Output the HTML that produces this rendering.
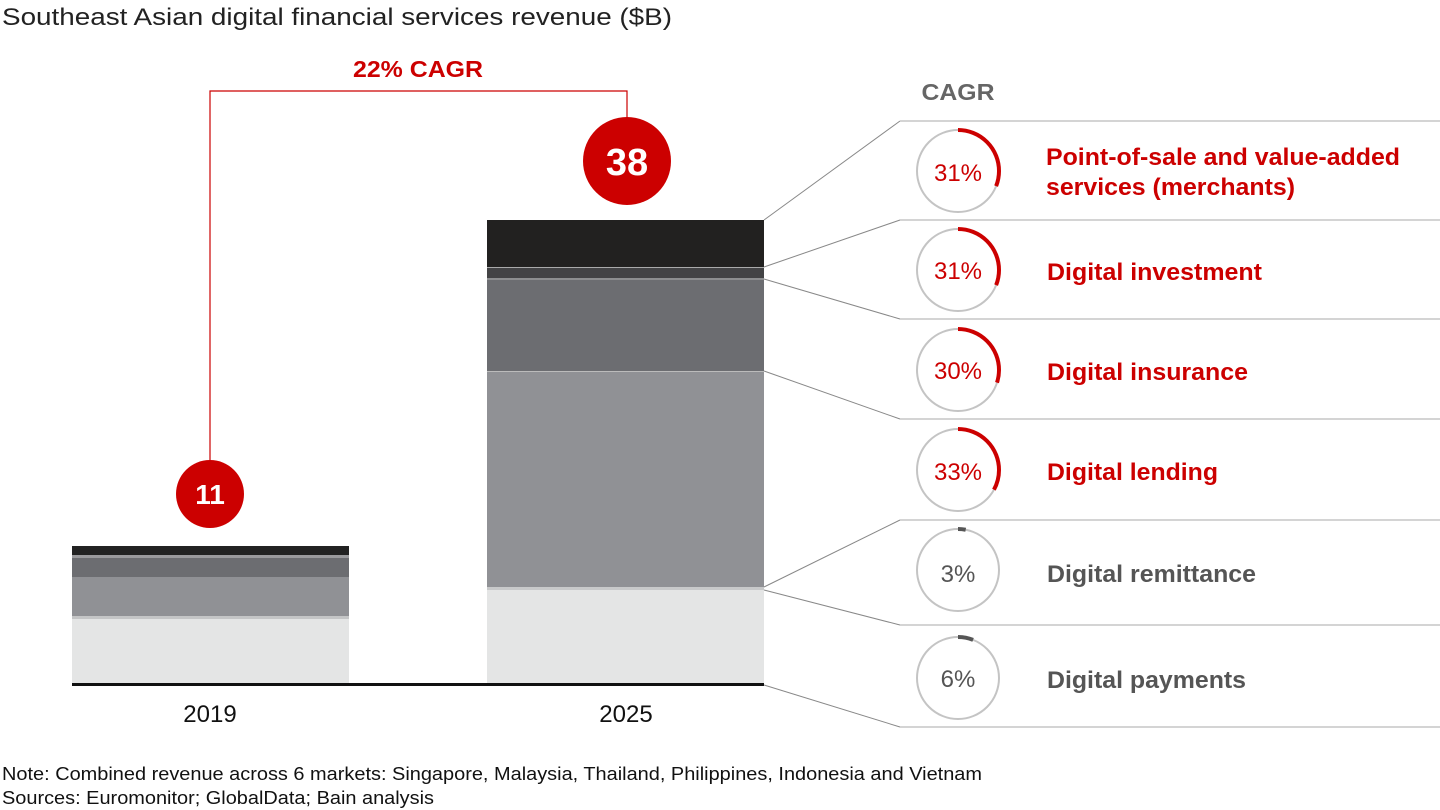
<!DOCTYPE html>
<html><head><meta charset="utf-8"><style>
body{margin:0;background:#fff;}
svg{display:block;font-family:"Liberation Sans",Arial,sans-serif;}
</style></head><body>
<svg width="1440" height="810" viewBox="0 0 1440 810" xmlns="http://www.w3.org/2000/svg">
<text x="2" y="25" font-size="24" fill="#222" textLength="670" lengthAdjust="spacingAndGlyphs">Southeast Asian digital financial services revenue ($B)</text>
<!-- 2019 bar -->
<rect x="72" y="546" width="277" height="9" fill="#222"/>
<rect x="72" y="555" width="277" height="3" fill="#9a9a9d"/>
<rect x="72" y="558" width="277" height="19" fill="#6c6d71"/>
<rect x="72" y="577" width="277" height="39" fill="#909195"/>
<rect x="72" y="616" width="277" height="3" fill="#c4c5c6"/>
<rect x="72" y="619" width="277" height="65" fill="#e4e5e5"/>
<!-- 2025 bar -->
<rect x="487" y="220" width="277" height="47" fill="#222120"/>
<rect x="487" y="267" width="277" height="1" fill="#aaa"/>
<rect x="487" y="268" width="277" height="10" fill="#434345"/>
<rect x="487" y="278" width="277" height="2" fill="#8d8e90"/>
<rect x="487" y="280" width="277" height="91" fill="#6c6d71"/>
<rect x="487" y="371" width="277" height="1" fill="#bbb"/>
<rect x="487" y="372" width="277" height="215" fill="#909195"/>
<rect x="487" y="587" width="277" height="3" fill="#c8c9ca"/>
<rect x="487" y="590" width="277" height="94" fill="#e4e5e5"/>
<rect x="72" y="683" width="692" height="3" fill="#111"/>
<text x="210" y="722" font-size="24" text-anchor="middle" fill="#111">2019</text>
<text x="626" y="722" font-size="24" text-anchor="middle" fill="#111">2025</text>
<!-- CAGR bracket -->
<polyline points="210,460 210,91 627,91 627,120" fill="none" stroke="#cc0000" stroke-width="1.2"/>
<text x="418" y="77" font-size="23" font-weight="bold" text-anchor="middle" fill="#cc0000" textLength="130" lengthAdjust="spacingAndGlyphs">22% CAGR</text>
<circle cx="210" cy="494" r="34" fill="#cc0000"/>
<text x="210" y="504" font-size="28" font-weight="bold" text-anchor="middle" fill="#fff">11</text>
<circle cx="627" cy="161" r="44" fill="#cc0000"/>
<text x="627" y="175" font-size="38" font-weight="bold" text-anchor="middle" fill="#fff">38</text>
<!-- leader lines -->
<g stroke="#888" stroke-width="1" fill="none">
<line x1="764" y1="220" x2="900" y2="121"/>
<line x1="764" y1="267" x2="900" y2="220"/>
<line x1="764" y1="279" x2="900" y2="319"/>
<line x1="764" y1="371" x2="900" y2="419"/>
<line x1="764" y1="587" x2="900" y2="520"/>
<line x1="764" y1="590" x2="900" y2="625"/>
<line x1="764" y1="685" x2="900" y2="727"/>
</g>
<g stroke="#aaa" stroke-width="1">
<line x1="900" y1="121" x2="1440" y2="121"/>
<line x1="900" y1="220" x2="1440" y2="220"/>
<line x1="900" y1="319" x2="1440" y2="319"/>
<line x1="900" y1="419" x2="1440" y2="419"/>
<line x1="900" y1="520" x2="1440" y2="520"/>
<line x1="900" y1="625" x2="1440" y2="625"/>
<line x1="900" y1="727" x2="1440" y2="727"/>
</g>
<text x="958" y="100" font-size="23" font-weight="bold" text-anchor="middle" fill="#666" textLength="73" lengthAdjust="spacingAndGlyphs">CAGR</text>
<!-- circles -->
<g fill="none" stroke="#c4c4c4" stroke-width="2">
<circle cx="958" cy="171" r="41"/>
<circle cx="958" cy="270" r="41"/>
<circle cx="958" cy="370" r="41"/>
<circle cx="958" cy="470" r="41"/>
<circle cx="958" cy="570" r="41"/>
<circle cx="958" cy="678" r="41"/>
</g>
<g fill="none" stroke="#cc0000" stroke-width="4">
<circle cx="958" cy="171" r="41" pathLength="100" stroke-dasharray="31 100" transform="rotate(-90 958 171)"/>
<circle cx="958" cy="270" r="41" pathLength="100" stroke-dasharray="31 100" transform="rotate(-90 958 270)"/>
<circle cx="958" cy="370" r="41" pathLength="100" stroke-dasharray="30 100" transform="rotate(-90 958 370)"/>
<circle cx="958" cy="470" r="41" pathLength="100" stroke-dasharray="33 100" transform="rotate(-90 958 470)"/>
</g>
<g fill="none" stroke="#555" stroke-width="4">
<circle cx="958" cy="570" r="41" pathLength="100" stroke-dasharray="3 100" transform="rotate(-90 958 570)"/>
<circle cx="958" cy="678" r="41" pathLength="100" stroke-dasharray="6 100" transform="rotate(-90 958 678)"/>
</g>
<g font-size="24" text-anchor="middle">
<text x="958" y="181" fill="#cc0000">31%</text>
<text x="958" y="279" fill="#cc0000">31%</text>
<text x="958" y="379" fill="#cc0000">30%</text>
<text x="958" y="480" fill="#cc0000">33%</text>
<text x="958" y="582" fill="#555">3%</text>
<text x="958" y="687" fill="#555">6%</text>
</g>
<g font-size="24" font-weight="bold" lengthAdjust="spacingAndGlyphs">
<text x="1046" y="165" fill="#cc0000" textLength="354" lengthAdjust="spacingAndGlyphs">Point-of-sale and value-added</text>
<text x="1046" y="195" fill="#cc0000" textLength="249" lengthAdjust="spacingAndGlyphs">services (merchants)</text>
<text x="1047" y="280" fill="#cc0000" textLength="215" lengthAdjust="spacingAndGlyphs">Digital investment</text>
<text x="1047" y="380" fill="#cc0000" textLength="201" lengthAdjust="spacingAndGlyphs">Digital insurance</text>
<text x="1047" y="480" fill="#cc0000" textLength="171" lengthAdjust="spacingAndGlyphs">Digital lending</text>
<text x="1047" y="582" fill="#555" textLength="209" lengthAdjust="spacingAndGlyphs">Digital remittance</text>
<text x="1047" y="688" fill="#555" textLength="199" lengthAdjust="spacingAndGlyphs">Digital payments</text>
</g>
<text x="2" y="780" font-size="18" fill="#111" textLength="980" lengthAdjust="spacingAndGlyphs">Note: Combined revenue across 6 markets: Singapore, Malaysia, Thailand, Philippines, Indonesia and Vietnam</text>
<text x="2" y="804" font-size="18" fill="#111" textLength="432" lengthAdjust="spacingAndGlyphs">Sources: Euromonitor; GlobalData; Bain analysis</text>
</svg>
</body></html>
